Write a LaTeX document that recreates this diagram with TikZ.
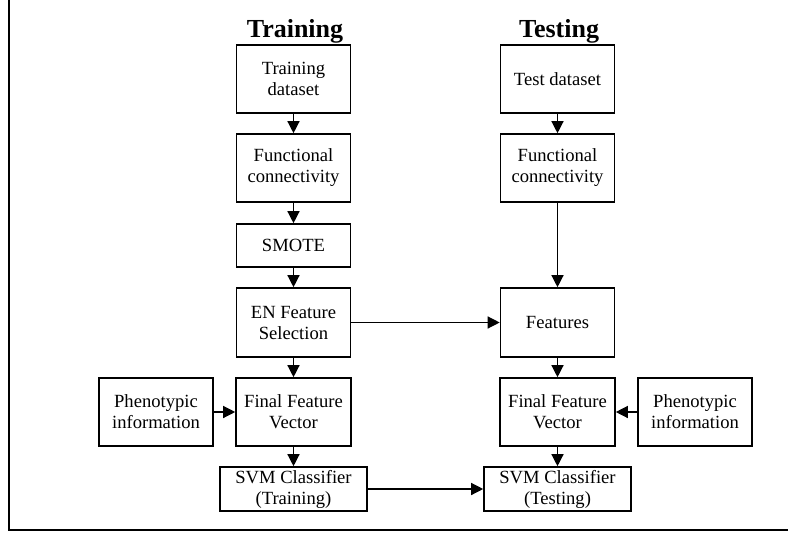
\documentclass[tikz,border=0pt]{standalone}
\usepackage{fontspec}
\setmainfont{Liberation Serif}
\usetikzlibrary{arrows.meta}

\begin{document}
\begin{tikzpicture}[x=1pt,y=-1pt,>={Triangle[length=12pt,width=12pt]}]

  \tikzstyle{every node}=[font=\fontsize{18.6}{21}\selectfont,align=center]
  \tikzstyle{blok}=[draw,line width=1.6pt,inner sep=0pt,minimum width=114pt,minimum height=68pt]
  \tikzstyle{svmblok}=[blok,minimum width=147pt,minimum height=44pt,text depth=3pt]
  \tikzstyle{titel}=[font=\bfseries\fontsize{26}{30}\selectfont,anchor=base]

  \useasboundingbox (0,0) rectangle (788,533);
  \draw[line width=2pt] (9,0) -- (9,530) -- (788,530);

  \node[titel] (ttrain) at (295,37) {Training};
  \node[titel] (ttest) at (559,37) {Testing};

  % training side
  \node[blok] (td) at (293.5,79) {Training\\dataset};
  \node[blok] (fc1) at (293.5,168) {Functional\\connectivity};
  \node[blok,minimum height=43pt] (smote) at (293.5,245.5) {SMOTE};
  \node[blok,minimum height=69pt] (en) at (293.5,322.5) {EN Feature\\Selection};
  \node[blok,minimum width=115pt] (ffv1) at (293.5,412) {Final Feature\\Vector};
  \node[blok] (ph1) at (156,412) {Phenotypic\\information};
  \node[svmblok] (svm1) at (293.5,489) {SVM Classifier\\(Training)};

  % testing side
  \node[blok] (ttd) at (557.5,79) {Test dataset};
  \node[blok] (fc2) at (557.5,168) {Functional\\connectivity};
  \node[blok,minimum height=69pt] (feat) at (557.5,322.5) {Features};
  \node[blok,minimum width=115pt] (ffv2) at (557.5,412) {Final Feature\\Vector};
  \node[blok] (ph2) at (695,412) {Phenotypic\\information};
  \node[svmblok] (svm2) at (557.5,489) {SVM Classifier\\(Testing)};

  \foreach \from/\to in {td/fc1,fc1/smote,smote/en,en/ffv1,ph1/ffv1,ffv1/svm1,
                         ttd/fc2,fc2/feat,en/feat,feat/ffv2,ph2/ffv2,ffv2/svm2,svm1/svm2}
    \draw[->,line width=1.3pt] (\from) -- (\to);

\end{tikzpicture}
\end{document}
